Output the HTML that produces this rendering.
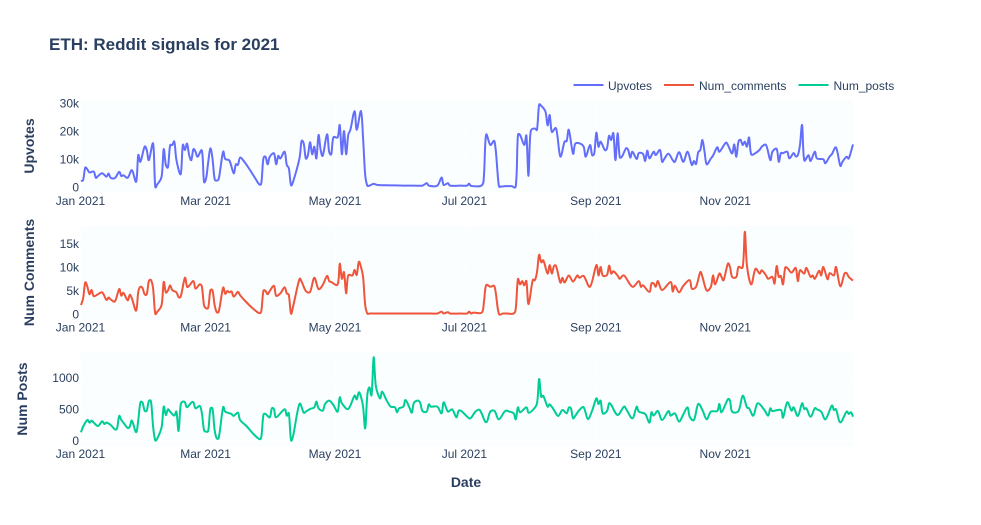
<!DOCTYPE html>
<html>
<head>
<meta charset="utf-8">
<title>ETH: Reddit signals for 2021</title>
<style>
html,body{margin:0;padding:0;background:#fff;}
svg{display:block;font-family:"Liberation Sans",Arial,sans-serif;}
.tick{font-size:12px;fill:#2a3f5f;}
.axt{font-size:14px;font-weight:bold;fill:#2a3f5f;}
</style>
</head>
<body>
<svg id="chart" width="981" height="525" viewBox="0 0 981 525" xmlns="http://www.w3.org/2000/svg">
<rect x="0" y="0" width="981" height="525" fill="#ffffff"/>
<text x="49" y="50" font-size="17" font-weight="bold" fill="#2a3f5f">ETH: Reddit signals for 2021</text>
<g>
<g>
<line x1="573.5" x2="603.5" y1="85" y2="85" stroke="#636efa" stroke-width="2"/>
<text class="tick" x="608" y="90">Upvotes</text>
</g>
<g>
<line x1="664" x2="694" y1="85" y2="85" stroke="#EF553B" stroke-width="2"/>
<text class="tick" x="699" y="90">Num_comments</text>
</g>
<g>
<line x1="798.5" x2="828.5" y1="85" y2="85" stroke="#00cc96" stroke-width="2"/>
<text class="tick" x="833.5" y="90">Num_posts</text>
</g>
</g>
<text class="axt" transform="translate(34,146) rotate(-90)" text-anchor="middle">Upvotes</text>
<text class="axt" transform="translate(34,272.5) rotate(-90)" text-anchor="middle">Num Comments</text>
<text class="axt" transform="translate(27,399) rotate(-90)" text-anchor="middle">Num Posts</text>
<text class="axt" x="466" y="487" text-anchor="middle">Date</text>
<g id="plots"></g>
</svg>
<script>
const xTickDays = [0, 59, 120, 181, 243, 304];
const xTickLabels = ["Jan 2021", "Mar 2021", "May 2021", "Jul 2021", "Sep 2021", "Nov 2021"];

const upvoteTicks = [0, 10000, 20000, 30000];
const upvoteTickLabels = ["0", "10k", "20k", "30k"];
const commentTicks = [0, 5000, 10000, 15000];
const commentTickLabels = ["0", "5k", "10k", "15k"];
const postTicks = [0, 500, 1000];
const postTickLabels = ["0", "500", "1000"];

const upvoteDays = [
0,1,2,3,4,6,7,8,10,12,13,14,16,18,19,20,22,24,26,27,
28,30,31,32,34,35,36,38,39,40,41,42,43,44,45,47,48,49,50,51,
52,53,54,55,57,58,59,60,61,62,63,64,65,67,68,70,72,73,74,75,
77,80,82,84,85,86,87,88,89,91,92,93,94,96,97,98,99,100,103,104,105,106,
107,108,109,110,111,112,113,114,116,117,118,119,121,122,123,124,125,126,127,129,
130,132,133,134,135,136,138,140,146,152,157,161,163,164,168,170,171,173,174,179,182,183,
184,189,190,191,193,195,197,198,200,203,205,206,207,209,210,211,212,214,215,216,217,219,
220,221,222,224,226,228,229,230,232,233,235,237,238,240,241,242,243,244,245,247,
248,249,250,251,252,253,254,255,257,258,259,260,262,263,265,266,267,268,270,271,
273,274,275,277,279,280,282,284,286,288,289,290,291,292,293,294,295,297,298,300,
301,304,305,307,308,309,310,311,312,313,314,315,316,318,320,321,323,325,326,328,
329,330,331,333,334,336,337,338,339,340,341,343,344,346,347,350,351,353,354,356,
358,359,361,362,364];
const upvoteValues = [
2100,2500,6900,6300,5200,5500,3300,3900,4900,3700,4800,3300,3200,5400,3900,4200,3300,6000,1900,11400,
9000,14400,13200,9600,15500,200,1000,3700,13500,7900,7100,14800,15000,16200,9600,4600,15000,13200,15500,11400,
9600,13500,12600,10800,13000,1900,3100,9000,13800,10200,2900,2300,3100,12600,10000,9400,4900,8100,7900,10500,
9000,5700,3300,1000,1300,10200,10800,8100,10800,12000,8100,11100,10200,12600,7900,6700,700,1900,10200,16400,15600,10200,
11400,16000,11700,14400,10200,18600,13200,11200,18800,12600,11700,17700,17700,22100,11700,20000,11700,18600,20400,27100,
20400,27100,17400,4300,500,500,1100,700,600,500,500,500,1400,500,500,3400,700,1400,500,500,500,1200,
400,600,4300,18600,15000,16200,500,200,300,300,400,18300,18600,15000,18300,4000,19700,20900,20500,29300,29000,26900,
22000,25700,19700,20900,10900,16200,16400,20400,11900,15400,15600,14400,10800,15000,11400,12000,19400,14400,16200,13200,
13800,18300,16800,19200,9600,19200,10800,10800,13800,13200,10500,12600,10000,12100,11800,9300,13000,10200,12600,11400,
13200,9000,10000,11900,9600,9000,12400,9000,12600,7900,9300,8200,12400,13200,16800,12600,8100,10200,11200,14200,
12600,15800,15000,12000,15200,10800,16200,16800,15000,16200,14400,17700,11700,12100,13300,14400,15000,9600,12600,13600,
9000,12100,12100,12600,10200,12100,10900,11400,15000,22100,9600,11400,9300,12600,10200,9900,8500,10900,11700,14100,
7600,9000,10800,10200,15200];

const commentDays = [
0,1,2,3,4,5,6,8,10,12,13,14,16,18,19,20,22,23,24,26,
27,28,29,30,31,32,33,34,35,36,38,39,40,41,42,43,45,46,47,49,
50,51,53,54,56,57,58,59,60,61,62,63,64,65,67,68,69,70,71,72,
74,75,78,81,84,85,86,87,88,89,91,92,94,96,97,98,99,100,103,104,106,108,
110,112,114,116,117,118,121,122,123,124,125,126,128,129,130,131,132,133,134,135,
136,138,141,146,151,156,161,165,168,170,171,173,174,179,182,183,184,185,189,190,191,193,195,197,199,201,204,205,206,207,
208,209,210,211,213,214,215,216,217,218,220,221,222,223,224,226,227,228,230,232,
234,235,237,240,243,244,245,246,248,249,250,251,253,254,256,260,263,264,265,268,
269,270,271,272,274,278,279,280,282,284,287,288,290,292,293,295,297,298,299,301,
302,303,305,306,307,309,310,312,313,314,316,318,320,321,323,324,326,327,328,329,
330,331,332,333,335,337,338,339,341,342,344,345,346,348,349,350,352,353,355,356,
358,360,361,362,364];
const commentValues = [
1900,3300,6700,5800,4200,5100,3800,4200,4600,3000,3500,3100,2700,5300,3900,4500,2900,4100,3300,700,
4700,5800,5500,4200,4200,7000,7200,5400,100,500,1900,6800,4600,5000,6100,5100,4600,3600,3700,7700,
5800,6000,7000,5400,6300,5800,1900,1200,1400,5000,5000,1900,400,600,5600,4300,4900,4600,4800,3700,
4700,4000,2500,1200,200,600,4900,4900,4200,4900,6000,3900,4400,5700,4400,4000,100,1600,7400,6900,4900,4700,
7700,5300,6200,8100,7000,6800,6300,10700,7500,8900,4400,8200,8200,9400,8300,11100,10000,7900,1900,100,
100,100,100,100,100,100,100,100,100,500,100,400,100,100,100,500,100,300,300,2600,6100,5800,5800,100,100,100,100,1200,7400,6300,
7000,6100,7000,2100,7200,7200,8900,12600,11000,11400,8600,10400,8600,10200,10200,6700,7700,6700,8200,6900,
8200,7700,8100,5800,10400,8200,10000,8200,8300,10300,8600,9100,8200,7500,8200,5800,7000,5800,6100,4700,
6500,6500,5800,7000,5100,6800,4800,6000,4600,6000,7200,5400,5800,8900,7900,5000,5800,8200,6300,8600,
7900,7200,10700,10000,7900,7900,10000,10000,17500,10300,6300,9600,8600,9300,8200,7500,7900,6500,10200,7900,
8100,6300,9800,9800,8800,9800,7000,9300,8600,9800,7900,8200,7500,9200,8200,10000,7400,8700,8200,10000,
5900,8600,8700,7900,7100];

const postDays = [
0,1,3,4,5,6,8,10,11,12,14,16,17,18,19,20,22,23,24,26,
27,28,29,30,31,32,33,34,35,36,38,39,40,41,42,44,45,46,47,48,
49,50,52,53,54,56,57,58,59,60,61,62,63,64,65,67,68,70,71,72,
74,75,78,81,84,85,86,87,89,90,91,92,96,97,98,99,100,103,105,106,108,110,
111,112,114,115,117,119,121,122,123,126,129,130,131,132,133,134,135,136,137,138,
139,141,142,144,146,148,149,150,152,153,155,156,157,159,160,161,163,164,165,168,
170,171,173,175,177,178,179,180,183,184,186,188,191,193,195,197,200,202,204,205,
206,207,210,211,213,215,216,217,218,220,221,223,225,227,229,230,231,232,233,235,
237,239,241,243,244,245,246,248,249,250,253,256,257,260,262,263,266,268,269,270,
272,274,277,278,280,282,284,286,287,289,291,293,295,297,300,301,302,305,306,307,
310,312,314,315,317,319,322,324,325,326,330,331,333,335,336,338,340,341,342,344,
346,347,349,351,354,355,356,358,361,362,363,364];
const postValues = [
127,217,322,280,312,280,227,302,259,280,243,174,190,386,322,280,196,217,312,127,
322,599,599,471,471,624,614,217,0,32,206,534,402,492,455,392,455,148,561,614,
603,524,598,603,507,545,429,164,138,153,497,497,164,32,48,523,455,429,418,387,
439,322,227,111,21,48,402,418,365,508,492,365,492,391,428,5,69,576,439,455,497,523,
614,508,471,571,630,561,455,682,587,497,708,650,761,692,534,190,719,841,719,1317,
867,666,772,640,534,524,445,508,534,640,508,439,598,629,587,465,455,571,534,534,
428,603,455,492,365,466,471,445,349,360,455,481,286,455,465,333,465,455,428,333,
523,445,523,439,481,587,973,693,703,534,571,481,386,481,428,518,508,349,386,481,
523,338,471,666,576,629,428,465,587,561,402,534,497,349,534,455,418,280,445,392,
465,322,465,391,428,296,412,523,375,322,576,481,333,455,465,576,445,650,629,455,
465,708,523,508,391,587,492,391,508,465,481,360,603,471,523,386,587,497,508,375,
508,492,455,333,550,481,492,285,455,418,445,375];

const SVGNS = "http://www.w3.org/2000/svg";
const root = document.getElementById("plots");
const plotLeft = 81, plotRight = 853, lastDay = 364;

function xScale(day) {
  return plotLeft + day * (plotRight - plotLeft) / lastDay;
}

function makeYScale(zeroPixel, pixelsPerUnit) {
  return function (value) { return zeroPixel - value * pixelsPerUnit; };
}

function splinePath(points) {
  let out = "M" + points[0][0].toFixed(2) + "," + points[0][1].toFixed(2);
  const n = points.length;
  const tangents = [];
  for (let i = 0; i < n; i++) {
    const a = points[Math.max(i - 1, 0)], b = points[i], c = points[Math.min(i + 1, n - 1)];
    const d1 = Math.sqrt(Math.hypot(b[0] - a[0], b[1] - a[1])) || 1;
    const d2 = Math.sqrt(Math.hypot(c[0] - b[0], c[1] - b[1])) || 1;
    const vx = (c[0] - a[0]) / 3, vy = (c[1] - a[1]) / 3;
    tangents.push({
      ix: b[0] - vx * d1 / (d1 + d2), iy: b[1] - vy * d1 / (d1 + d2),
      ox: b[0] + vx * d2 / (d1 + d2), oy: b[1] + vy * d2 / (d1 + d2)
    });
  }
  for (let i = 1; i < n; i++) {
    out += "C" + tangents[i - 1].ox.toFixed(2) + "," + tangents[i - 1].oy.toFixed(2) + " " +
      tangents[i].ix.toFixed(2) + "," + tangents[i].iy.toFixed(2) + " " +
      points[i][0].toFixed(2) + "," + points[i][1].toFixed(2);
  }
  return out;
}

function drawPanel(opts) {
  const g = document.createElementNS(SVGNS, "g");
  
  
  root.appendChild(g);

  const bg = document.createElementNS(SVGNS, "rect");
  
  
  bg.setAttribute("x", plotLeft);
  bg.setAttribute("y", opts.top);
  bg.setAttribute("width", plotRight - plotLeft);
  bg.setAttribute("height", opts.bottom - opts.top);
  bg.setAttribute("fill", "#fafefe");
  g.appendChild(bg);

  xTickDays.forEach(function (day, i) {
    const grid = document.createElementNS(SVGNS, "line");
    
    
    grid.setAttribute("x1", xScale(day));
    grid.setAttribute("x2", xScale(day));
    grid.setAttribute("y1", opts.top);
    grid.setAttribute("y2", opts.bottom);
    grid.setAttribute("stroke", "#ffffff");
    g.appendChild(grid);

    const label = document.createElementNS(SVGNS, "text");
    
    
    label.setAttribute("class", "tick");
    label.setAttribute("x", xScale(day) - 0.5);
    label.setAttribute("y", opts.labelY);
    label.setAttribute("text-anchor", "middle");
    label.textContent = xTickLabels[i];
    g.appendChild(label);
  });

  opts.ticks.forEach(function (value, i) {
    const grid = document.createElementNS(SVGNS, "line");
    
    
    grid.setAttribute("x1", plotLeft);
    grid.setAttribute("x2", plotRight);
    grid.setAttribute("y1", opts.y(value));
    grid.setAttribute("y2", opts.y(value));
    grid.setAttribute("stroke", "#ffffff");
    g.appendChild(grid);

    const label = document.createElementNS(SVGNS, "text");
    
    
    label.setAttribute("class", "tick");
    label.setAttribute("x", 79);
    label.setAttribute("y", opts.y(value) + 4.5);
    label.setAttribute("text-anchor", "end");
    label.textContent = opts.tickLabels[i];
    g.appendChild(label);
  });

  const pts = opts.days.map(function (day, i) {
    return [xScale(day), opts.y(opts.values[i])];
  });
  const line = document.createElementNS(SVGNS, "path");
  
  
  line.setAttribute("d", splinePath(pts));
  line.setAttribute("fill", "none");
  line.setAttribute("stroke", opts.color);
  line.setAttribute("stroke-width", "2");
  line.setAttribute("stroke-linejoin", "round");
  g.appendChild(line);
}

drawPanel({name: "upvotes", top: 100, bottom: 193, labelY: 205,
  y: makeYScale(187, 0.0028), ticks: upvoteTicks, tickLabels: upvoteTickLabels,
  days: upvoteDays, values: upvoteValues, color: "#636efa"});
drawPanel({name: "num-comments", top: 226, bottom: 320, labelY: 331.5,
  y: makeYScale(314, 0.0047), ticks: commentTicks, tickLabels: commentTickLabels,
  days: commentDays, values: commentValues, color: "#EF553B"});
drawPanel({name: "num-posts", top: 353, bottom: 446, labelY: 458,
  y: makeYScale(440.3, 0.063), ticks: postTicks, tickLabels: postTickLabels,
  days: postDays, values: postValues, color: "#00cc96"});
</script>
</body>
</html>
